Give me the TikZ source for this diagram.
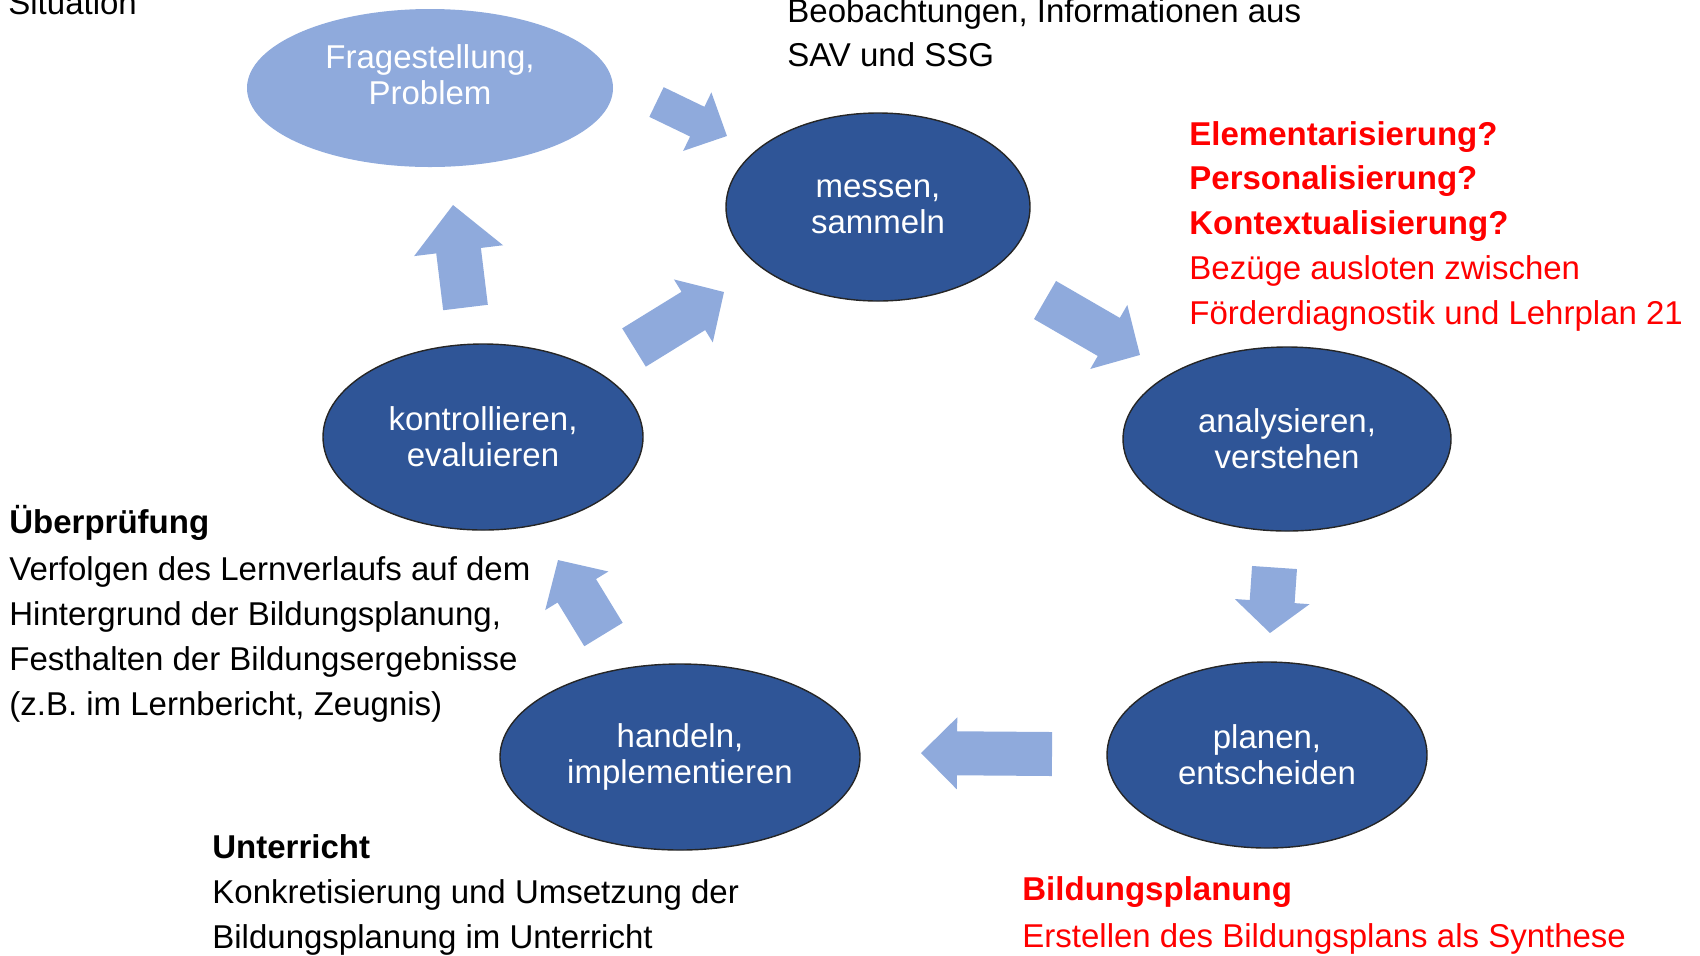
\documentclass[tikz,border=0pt]{standalone}
\usepackage{fontspec}
\setmainfont{Liberation Sans}
\usetikzlibrary{shapes.geometric,calc}
\definecolor{darkblue}{HTML}{2F5597}
\definecolor{lightblue}{HTML}{8FAADC}
\definecolor{redtxt}{HTML}{FF0000}
\tikzset{
  phase/.style={ellipse, fill=darkblue, draw=black!85, line width=0.7pt, text=white,
    align=center, inner sep=0pt, font=\fontsize{16.5}{18}\selectfont},
  startphase/.style={ellipse, fill=lightblue, text=white, align=center, inner sep=0pt,
    font=\fontsize{16.5}{18}\selectfont},
  txt/.style={anchor=base west, inner sep=0pt, font=\fontsize{16.5}{20}\selectfont},
  boldtxt/.style={txt, font=\fontsize{16.5}{20}\selectfont\bfseries},
  redline/.style={txt, text=redtxt},
  redbold/.style={boldtxt, text=redtxt},
}
% tail, tip, shaft half width, head half width, head length
\newcommand\fatarrow[5]{%
  \fill[lightblue] let \p1=(#1), \p2=(#2),
      \n1={atan2(\y2-\y1,\x2-\x1)}, \n2={veclen(\x2-\x1,\y2-\y1)} in
    [shift={(\p1)}, rotate=\n1]
    (0pt,-#3) -- ({\n2-#5},-#3) -- ({\n2-#5},-#4) -- ({\n2+0pt},0pt)
    -- ({\n2-#5},#4) -- ({\n2-#5},#3) -- (0pt,#3) -- cycle;
}
\begin{document}
\begin{tikzpicture}[x=0.5pt,y=-0.5pt]
\useasboundingbox (0,0) rectangle (1700,955);

% ellipses
\node[startphase, minimum width=183pt, minimum height=79pt, text depth=13.5pt] (frage) at (430,88) {Fragestellung,\\Problem};
\node[phase, minimum width=152pt, minimum height=94pt] (messen) at (878,207) {messen,\\sammeln};
\node[phase, minimum width=164pt, minimum height=92pt] (analys) at (1287,439) {analysieren,\\verstehen};
\node[phase, minimum width=160pt, minimum height=93pt] (planen) at (1267,755) {planen,\\entscheiden};
\node[phase, minimum width=180pt, minimum height=93pt] (handeln) at (680,757) {handeln,\\implementieren};
\node[phase, minimum width=160pt, minimum height=93pt] (kontr) at (483,437) {kontrollieren,\\evaluieren};

% arrow end points
\coordinate (a1s) at (656.5,102);  \coordinate (a1e) at (727,136);
\coordinate (a2s) at (1045,300);   \coordinate (a2e) at (1140,355);
\coordinate (a3s) at (1274.5,567.5); \coordinate (a3e) at (1270,633);
\coordinate (a4s) at (1052,754);   \coordinate (a4e) at (921,753);
\coordinate (a5s) at (603.5,634.5); \coordinate (a5e) at (558,560);
\coordinate (a6s) at (634,347.5);  \coordinate (a6e) at (724,292);
\coordinate (a7s) at (465.5,307.5); \coordinate (a7e) at (453,205);

\fatarrow{a1s}{a1e}{8.25pt}{16.25pt}{16.5pt}
\fatarrow{a2s}{a2e}{11pt}{18.5pt}{18pt}
\fatarrow{a3s}{a3e}{11.25pt}{18.75pt}{15.75pt}
\fatarrow{a4s}{a4e}{11pt}{18pt}{18pt}
\fatarrow{a5s}{a5e}{11.25pt}{18.5pt}{18pt}
\fatarrow{a6s}{a6e}{11.25pt}{18.5pt}{18pt}
\fatarrow{a7s}{a7e}{11.25pt}{22.4pt}{23pt}

% texts
\node[txt] (sit) at (8,14) {Situation};
\node[txt] (beo1) at (787,22) {Beobachtungen, Informationen aus};
\node[txt] (beo2) at (787,66) {SAV und SSG};

\node[redbold] (r1) at (1189,145) {Elementarisierung?};
\node[redbold] (r2) at (1189,189.5) {Personalisierung?};
\node[redbold] (r3) at (1189,234) {Kontextualisierung?};
\node[redline] (r4) at (1189,279) {Bezüge ausloten zwischen};
\node[redline] (r5) at (1189,324) {Förderdiagnostik und Lehrplan 21};

\node[boldtxt] (u1) at (9,533) {Überprüfung};
\node[txt] (u2) at (9,580) {Verfolgen des Lernverlaufs auf dem};
\node[txt] (u3) at (9,625) {Hintergrund der Bildungsplanung,};
\node[txt] (u4) at (9,670) {Festhalten der Bildungsergebnisse};
\node[txt] (u5) at (9,715) {(z.B. im Lernbericht, Zeugnis)};

\node[boldtxt] (ur1) at (212,858) {Unterricht};
\node[txt] (ur2) at (212,903) {Konkretisierung und Umsetzung der};
\node[txt] (ur3) at (212,948) {Bildungsplanung im Unterricht};

\node[redbold] (b1) at (1022,900) {Bildungsplanung};
\node[redline] (b2) at (1022,947) {Erstellen des Bildungsplans als Synthese};
\end{tikzpicture}
\end{document}
